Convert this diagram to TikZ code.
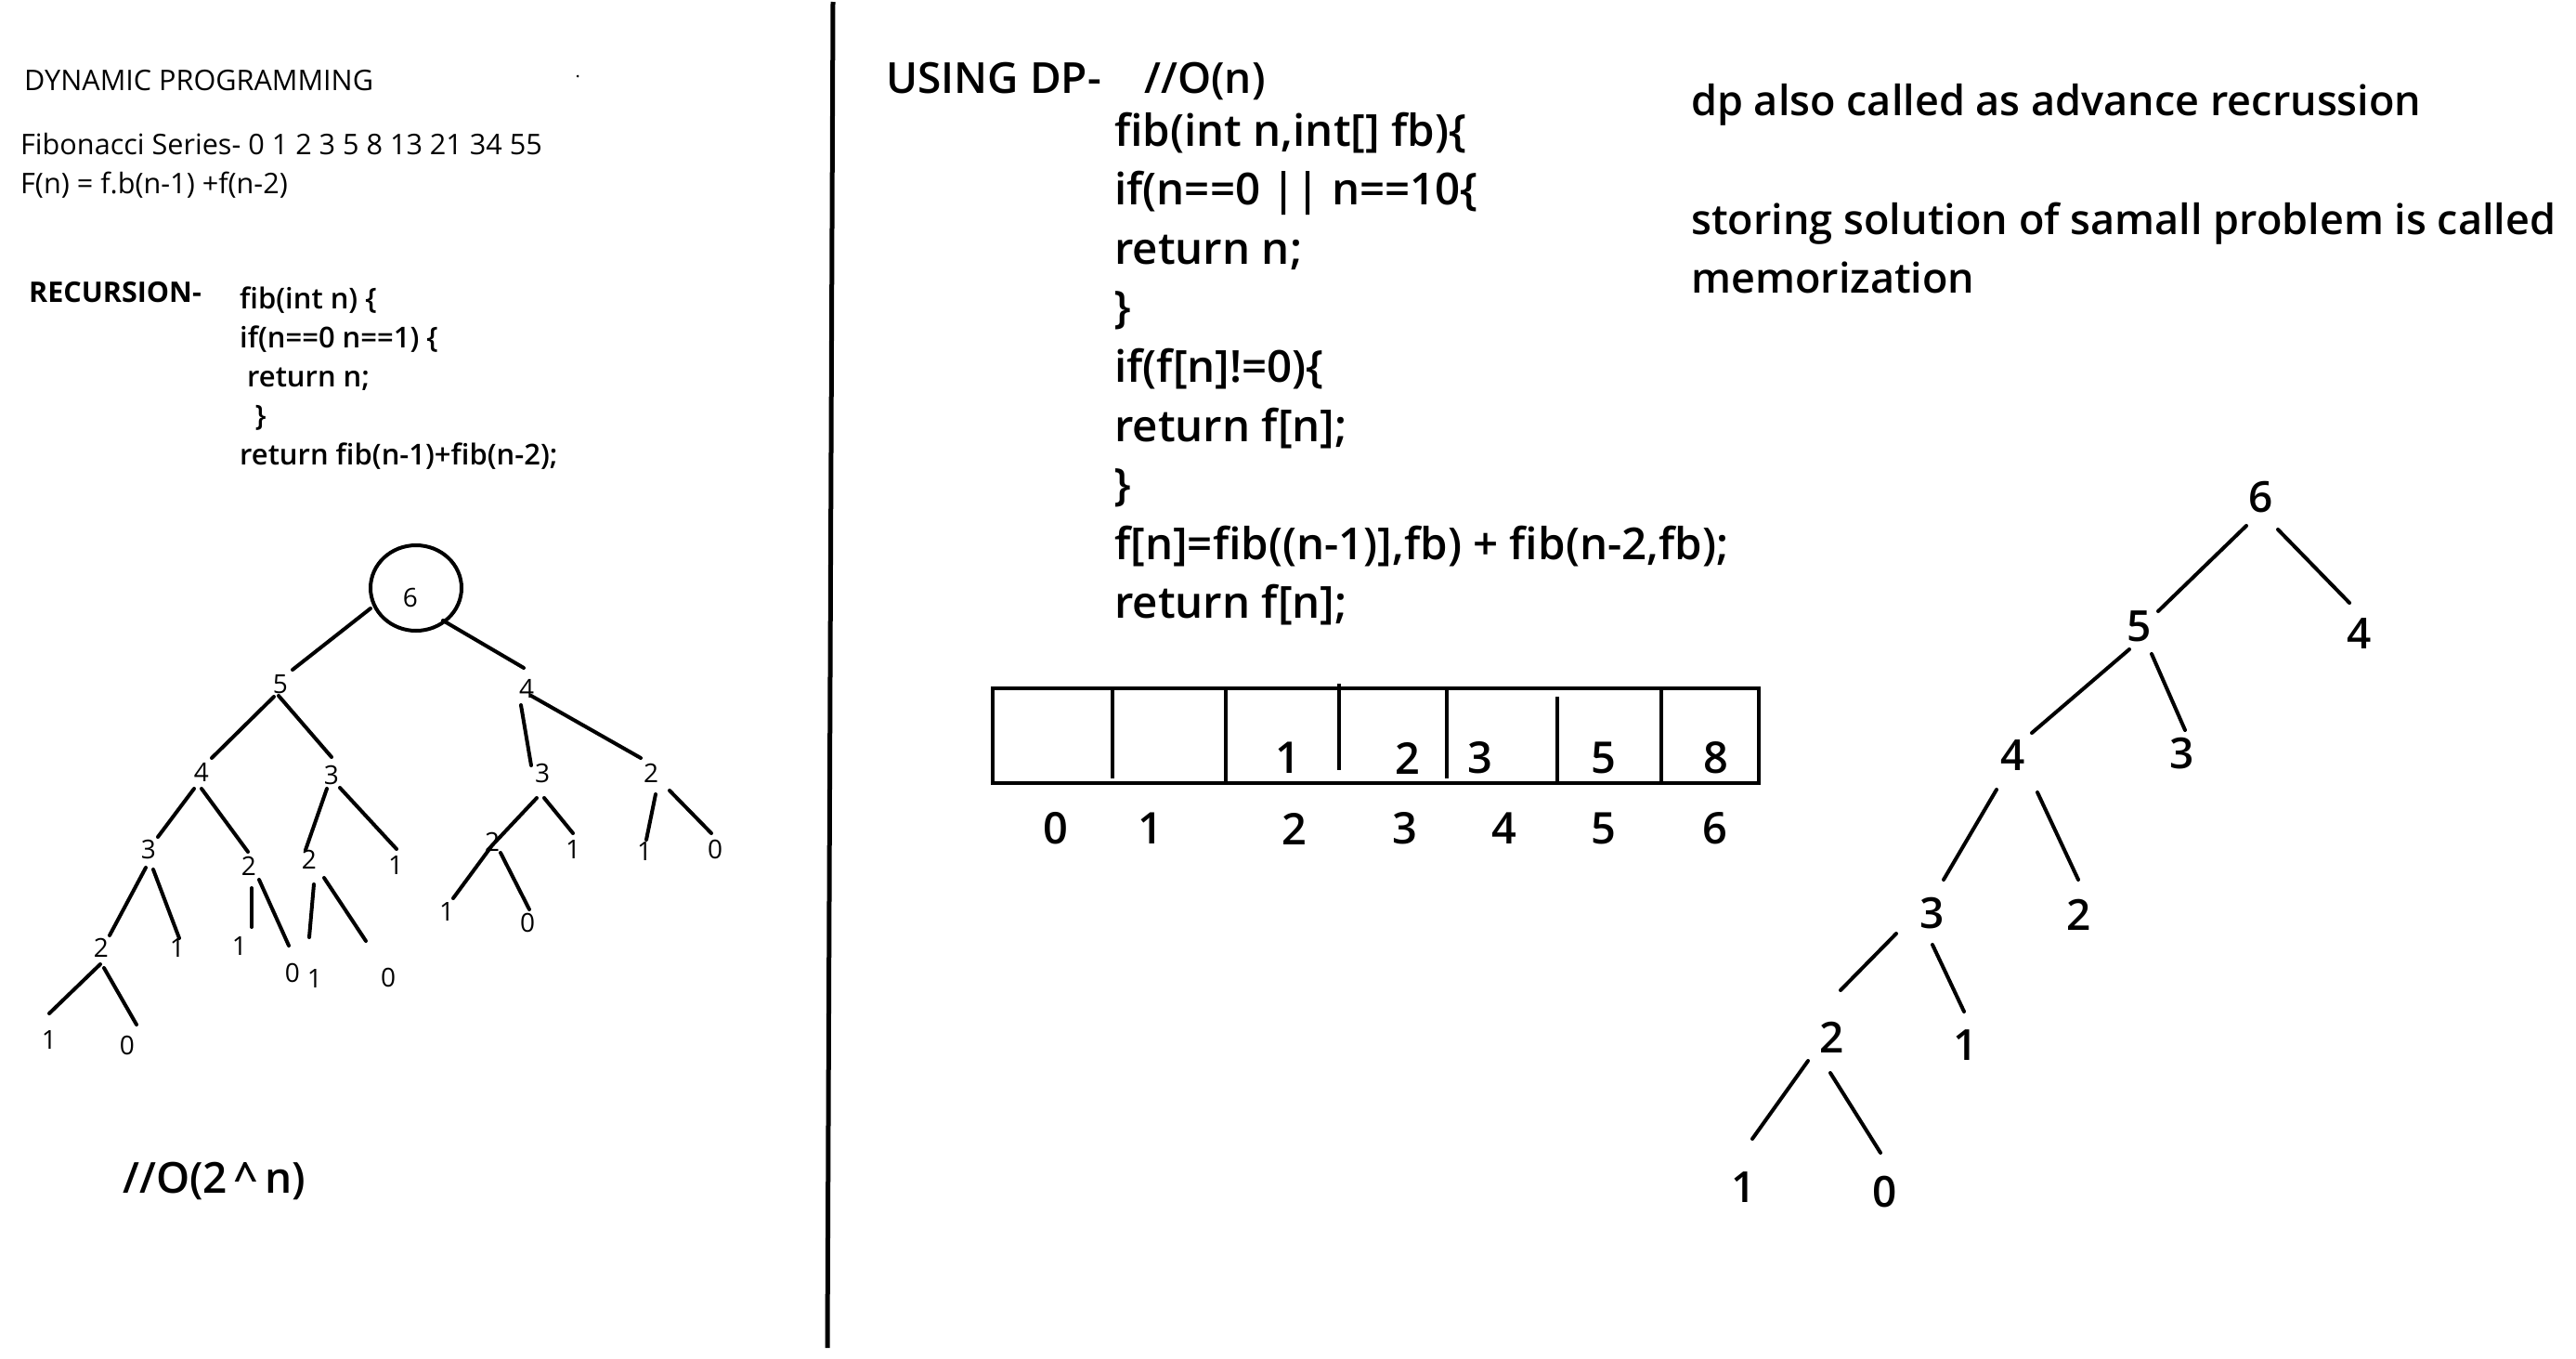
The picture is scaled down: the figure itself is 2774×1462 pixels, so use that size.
\documentclass[tikz,border=0pt]{standalone}
\usepackage{fontspec}
\setmainfont{Open Sans}
\IfFontExistsTF{Open Sans SemiBold}{\newfontfamily\semib{Open Sans SemiBold}}{%
	\IfFontExistsTF{Open Sans Semibold}{\newfontfamily\semib{Open Sans Semibold}}{%
		\newfontfamily\semib{Open Sans}[FakeBold=2.5]}}
\usepackage{tikz}
\usetikzlibrary{calc}
\usetikzlibrary{shapes.geometric}

\tikzset{
	txt/.style={anchor=base west, inner sep=0pt},
	small/.style={txt, font=\fontsize{30.6}{36}\selectfont},
	lcode/.style={txt, font=\semib\fontsize{31}{36}\selectfont},
	big/.style={txt, font=\semib\fontsize{46}{56}\selectfont},
	remark/.style={txt, font=\semib\fontsize{45}{56}\selectfont},
	rcode/.style={txt, font=\semib\fontsize{47.5}{56}\selectfont},
	lnum/.style={inner sep=0pt, font=\fontsize{28}{30}\selectfont},
	rnum/.style={inner sep=0pt, font=\semib\fontsize{46}{50}\selectfont},
	cellnum/.style={inner sep=0pt, font=\semib\fontsize{47}{50}\selectfont},
	link/.style={line width=4pt, line cap=round},
}

\begin{document}
\begin{tikzpicture}[x=1pt,y=-1pt]
			\fill[white] (0,0) rectangle (2774,1462);
			\useasboundingbox (0,0) rectangle (2774,1462);
			% left half: plain recursion
			\node[small] (title) at (26,97) {DYNAMIC PROGRAMMING};
			\fill (622,82) circle (1.5);
			\node[small] (series) at (22,166) {Fibonacci Series- 0 1 2 3 5 8 13 21 34 55};
			\node[small] (rule) at (22,208) {F(n) = f.b(n-1) +f(n-2)};
			\node[txt, font=\bfseries\fontsize{30.5}{36}\selectfont] (rec) at (31,325) {RECURSION-};
			\node[lcode] (c1) at (258,332) {fib(int n) \{};
			\node[lcode] (c2) at (258,374) {if(n==0 n==1) \{};
			\node[lcode] (c3) at (266,416) {return n;};
			\node[lcode] (c4) at (275,458) {\}};
			\node[lcode] (c5) at (258,500) {return fib(n-1)+fib(n-2);};
			% recursion tree
			\node[draw, ellipse, line width=4pt, minimum width=98pt, minimum height=92pt, inner sep=0pt] (l6ring) at (448,633) {};
			\node[lnum] (l6) at (442,643) {6};
			\node[lnum] (lL) at (302,737) {5};
			\node[lnum] (lR) at (567,741) {4};
			\node[lnum] (lLL) at (217,831) {4};
			\node[lnum] (lLR) at (357,834) {3};
			\node[lnum] (lRL) at (584,832) {3};
			\node[lnum] (lRR) at (701,832) {2};
			\node[lnum] (lLLL) at (160,914) {3};
			\node[lnum] (lLLR) at (268,932) {2};
			\node[lnum] (lLRL) at (333,925) {2};
			\node[lnum] (lLRR) at (426,931) {1};
			\node[lnum] (lRLL) at (530,906) {2};
			\node[lnum] (lRLR) at (617,914) {1};
			\node[lnum] (lRRL) at (694,916) {1};
			\node[lnum] (lRRR) at (770,914) {0};
			\node[lnum] (lLLLL) at (109,1020) {2};
			\node[lnum] (lLLLR) at (191,1020) {1};
			\node[lnum] (lLLRL) at (258,1018) {1};
			\node[lnum] (lLLRR) at (315,1047) {0};
			\node[lnum] (lLRLL) at (339,1053) {1};
			\node[lnum] (lLRLR) at (418,1052) {0};
			\node[lnum] (lRLLL) at (481,981) {1};
			\node[lnum] (lRLLR) at (568,993) {0};
			\node[lnum] (lLLLLL) at (53,1119) {1};
			\node[lnum] (lLLLLR) at (137,1125) {0};
			\draw[link] ($(l6ring)+(-49,22)$) -- ($(lL)+(13,-16)$);
			\draw[link] ($(l6ring)+(29,35)$) -- ($(lR)+(-3,-22)$);
			\draw[link] ($(lL)+(-7,13)$) -- ($(lLL)+(11,-15)$);
			\draw[link] ($(lL)+(-2,12)$) -- ($(lLR)+(0,-19)$);
			\draw[link] ($(lR)+(-6,18)$) -- ($(lRL)+(-12,-8)$);
			\draw[link] ($(lR)+(5,8)$) -- ($(lRR)+(-11,-16)$);
			\draw[link] ($(lLL)+(-8,18)$) -- ($(lLLL)+(10,-13)$);
			\draw[link] ($(lLL)+(0,18)$) -- ($(lLLR)+(-1,-15)$);
			\draw[link] ($(lLR)+(-5,15)$) -- ($(lLRL)+(-4,-10)$);
			\draw[link] ($(lLR)+(9,14)$) -- ($(lLRR)+(1,-17)$);
			\draw[link] ($(lRL)+(-6,27)$) -- ($(lRLL)+(0,4)$) -- ($(lRLLL)+(7,-14)$);
			\draw[link] ($(lRLL)+(9,12)$) -- ($(lRLLR)+(2,-14)$);
			\draw[link] ($(lRL)+(2,27)$) -- ($(lRLR)+(0,-17)$);
			\draw[link] ($(lRR)+(5,23)$) -- ($(lRRL)+(2,-12)$);
			\draw[link] ($(lRR)+(20,19)$) -- ($(lRRR)+(-4,-17)$);
			\draw[link] ($(lLLL)+(-3,20)$) -- ($(lLLLL)+(9,-13)$);
			\draw[link] ($(lLLL)+(5,22)$) -- ($(lLLLR)+(2,-10)$);
			\draw[link] ($(lLLR)+(3,24)$) -- ($(lLLRL)+(13,-20)$);
			\draw[link] ($(lLLR)+(11,15)$) -- ($(lLLRR)+(-4,-29)$);
			\draw[link] ($(lLRL)+(5,27)$) -- ($(lLRLL)+(-6,-44)$);
			\draw[link] ($(lLRL)+(16,20)$) -- ($(lLRLR)+(-24,-39)$);
			\draw[link] ($(lLLLL)+(-1,18)$) -- ($(lLLLLL)+(0,-28)$);
			\draw[link] ($(lLLLL)+(3,22)$) -- ($(lLLLLR)+(10,-22)$);
			\node[big] (slow) at (132,1284) {//O(2\,\textasciicircum\,n)};
			% divider
			\draw[line width=5pt] (897,2) -- (891,1451);
			% right half: dp
			\node[big] (dp) at (954,100) {USING DP-};
			\node[big] (fast) at (1232,100) {//O(n)};
			\node[rcode] (d1) at (1200,157) {fib(int n,int[] fb)\{};
			\node[rcode] (d2) at (1200,220.6) {if(n==0 || n==10\{};
			\node[rcode] (d3) at (1200,284.2) {return n;};
			\node[rcode] (d4) at (1200,347.8) {\}};
			\node[rcode] (d5) at (1200,411.4) {if(f[n]!=0)\{};
			\node[rcode] (d6) at (1200,475) {return f[n];};
			\node[rcode] (d7) at (1200,538.6) {\}};
			\node[rcode] (d8) at (1200,602.2) {f[n]=fib((n-1)],fb) + fib(n-2,fb);};
			\node[rcode] (d9) at (1200,665.8) {return f[n];};
			\node[remark] (note1) at (1821,124) {dp also called as advance recrussion};
			\node[remark] (note2) at (1821,252) {storing solution of samall problem is called};
			\node[remark] (note3) at (1821,315) {memorization};
			% memo array
			\draw[line width=4.5pt] (1069,741) rectangle (1894,843);
			\draw[line width=3.5pt] (1198,741) -- (1198,838);
			\draw[line width=3.5pt] (1320,741) -- (1320,843);
			\draw[line width=3.5pt] (1442,736) -- (1442,829);
			\draw[line width=3.5pt] (1558,741) -- (1558,838);
			\draw[line width=3.5pt] (1677,750) -- (1677,843);
			\draw[line width=3.5pt] (1789,741) -- (1789,843);
			\node[cellnum] (v2) at (1387,816) {1};
			\node[cellnum] (v3) at (1516,816) {2};
			\node[cellnum] (v4) at (1594,816) {3};
			\node[cellnum] (v5) at (1727,816) {5};
			\node[cellnum] (v6) at (1848,816) {8};
			\node[cellnum] (i0) at (1137,892) {0};
			\node[cellnum] (i1) at (1239,892) {1};
			\node[cellnum] (i2) at (1394,892) {2};
			\node[cellnum] (i3) at (1513,892) {3};
			\node[cellnum] (i4) at (1620,892) {4};
			\node[cellnum] (i5) at (1727,892) {5};
			\node[cellnum] (i6) at (1847,892) {6};
			% memoized tree
			\node[rnum] (r) at (2435,535) {6};
			\node[rnum] (rL) at (2304,674) {5};
			\node[rnum] (rR) at (2541,682) {4};
			\node[rnum] (rLL) at (2168,813) {4};
			\node[rnum] (rLR) at (2350,811) {3};
			\node[rnum] (rLLL) at (2081,983) {3};
			\node[rnum] (rLLR) at (2239,985) {2};
			\node[rnum] (rLLLL) at (1973,1117) {2};
			\node[rnum] (rLLLR) at (2117,1125) {1};
			\node[rnum] (rLLLLL) at (1878,1278) {1};
			\node[rnum] (rLLLLR) at (2030,1283) {0};
			\draw[link] ($(r)+(-16,31)$) -- ($(rL)+(20,-16)$);
			\draw[link] ($(r)+(18,35)$) -- ($(rR)+(-11,-33)$);
			\draw[link] ($(rL)+(-11,25)$) -- ($(rLL)+(20,-24)$);
			\draw[link] ($(rL)+(13,30)$) -- ($(rLR)+(3,-25)$);
			\draw[link] ($(rLL)+(-18,37)$) -- ($(rLLL)+(12,-36)$);
			\draw[link] ($(rLL)+(26,40)$) -- ($(rLLR)+(-1,-38)$);
			\draw[link] ($(rLLL)+(-39,22)$) -- ($(rLLLL)+(9,-51)$);
			\draw[link] ($(rLLL)+(0,34)$) -- ($(rLLLR)+(-2,-36)$);
			\draw[link] ($(rLLLL)+(-26,25)$) -- ($(rLLLLL)+(9,-52)$);
			\draw[link] ($(rLLLL)+(-2,38)$) -- ($(rLLLLR)+(-5,-42)$);
		\end{tikzpicture}
\end{document}
